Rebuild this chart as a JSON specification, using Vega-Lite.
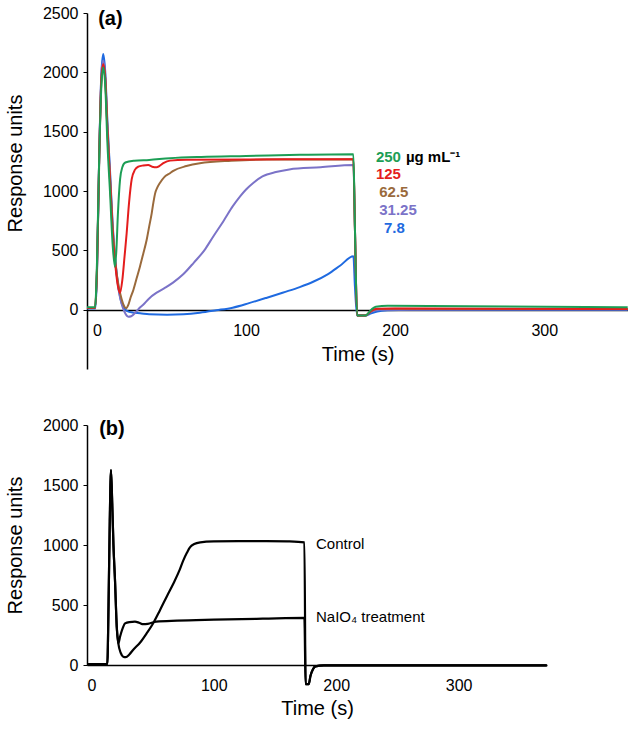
{
"$schema": "https://vega.github.io/schema/vega-lite/v6.json",
"padding": {"left": 5, "top": 5, "right": 0, "bottom": 2},
"spacing": 48,
"config": {"view": {"stroke": null}, "font": "Liberation Sans",
  "axis": {"grid": false, "domainColor": "black", "domainWidth": 1.5, "tickColor": "black", "labelColor": "black", "titleColor": "black", "labelFontSize": 16, "titleFontSize": 20, "titleFontWeight": "normal", "labelFlush": false, "labelOverlap": false, "format": "d"}},
"datasets": {
"a": [
{"s":"7.8","t":-6.7,"v":10},{"s":"7.8","t":-1,"v":10},{"s":"7.8","t":0,"v":300},{"s":"7.8","t":1.5,"v":1300},{"s":"7.8","t":3,"v":2000},{"s":"7.8","t":4.2,"v":2154},{"s":"7.8","t":5.5,"v":2010},{"s":"7.8","t":7,"v":1580},{"s":"7.8","t":8.7,"v":1180},{"s":"7.8","t":10.5,"v":720},{"s":"7.8","t":12.5,"v":390},{"s":"7.8","t":14.5,"v":180},{"s":"7.8","t":16,"v":80},{"s":"7.8","t":17.5,"v":25},{"s":"7.8","t":20,"v":-10},{"s":"7.8","t":24,"v":-25},{"s":"7.8","t":29,"v":-30},{"s":"7.8","t":35,"v":-38},{"s":"7.8","t":47,"v":-42},{"s":"7.8","t":58,"v":-38},{"s":"7.8","t":69,"v":-25},{"s":"7.8","t":80,"v":-5},{"s":"7.8","t":91,"v":17},{"s":"7.8","t":102,"v":55},{"s":"7.8","t":114,"v":101},{"s":"7.8","t":125,"v":145},{"s":"7.8","t":136,"v":190},{"s":"7.8","t":145,"v":235},{"s":"7.8","t":155,"v":300},{"s":"7.8","t":163,"v":370},{"s":"7.8","t":172,"v":450},{"s":"7.8","t":173,"v":200},{"s":"7.8","t":174.5,"v":-50},{"s":"7.8","t":180,"v":-50},{"s":"7.8","t":184,"v":-30},{"s":"7.8","t":188,"v":-15},{"s":"7.8","t":195,"v":-5},{"s":"7.8","t":210,"v":0},{"s":"7.8","t":356,"v":0},
{"s":"31.25","t":-6.7,"v":15},{"s":"31.25","t":-1.3,"v":15},{"s":"31.25","t":0,"v":330},{"s":"31.25","t":1.5,"v":1300},{"s":"31.25","t":3,"v":2000},{"s":"31.25","t":4.2,"v":2100},{"s":"31.25","t":5.5,"v":1980},{"s":"31.25","t":7,"v":1550},{"s":"31.25","t":8.7,"v":1150},{"s":"31.25","t":10.5,"v":700},{"s":"31.25","t":12.5,"v":380},{"s":"31.25","t":14.5,"v":170},{"s":"31.25","t":16.5,"v":50},{"s":"31.25","t":18.5,"v":-20},{"s":"31.25","t":21,"v":-59},{"s":"31.25","t":23,"v":-55},{"s":"31.25","t":26,"v":-20},{"s":"31.25","t":29,"v":20},{"s":"31.25","t":31,"v":42},{"s":"31.25","t":35,"v":95},{"s":"31.25","t":40,"v":143},{"s":"31.25","t":45,"v":180},{"s":"31.25","t":51,"v":228},{"s":"31.25","t":58,"v":300},{"s":"31.25","t":65,"v":397},{"s":"31.25","t":72,"v":500},{"s":"31.25","t":78,"v":617},{"s":"31.25","t":85,"v":750},{"s":"31.25","t":91,"v":870},{"s":"31.25","t":96,"v":955},{"s":"31.25","t":100,"v":1013},{"s":"31.25","t":105,"v":1070},{"s":"31.25","t":111,"v":1123},{"s":"31.25","t":120,"v":1160},{"s":"31.25","t":129,"v":1182},{"s":"31.25","t":150,"v":1200},{"s":"31.25","t":172,"v":1220},{"s":"31.25","t":173,"v":700},{"s":"31.25","t":174.5,"v":-50},{"s":"31.25","t":180,"v":-50},{"s":"31.25","t":184,"v":-15},{"s":"31.25","t":190,"v":0},{"s":"31.25","t":356,"v":2},
{"s":"62.5","t":-6.7,"v":15},{"s":"62.5","t":-1.3,"v":15},{"s":"62.5","t":0,"v":330},{"s":"62.5","t":1.5,"v":1250},{"s":"62.5","t":3,"v":1950},{"s":"62.5","t":4.2,"v":2060},{"s":"62.5","t":5.5,"v":1950},{"s":"62.5","t":7,"v":1520},{"s":"62.5","t":8.7,"v":1120},{"s":"62.5","t":10.5,"v":680},{"s":"62.5","t":12.5,"v":380},{"s":"62.5","t":14.5,"v":200},{"s":"62.5","t":16.5,"v":90},{"s":"62.5","t":18,"v":35},{"s":"62.5","t":19.5,"v":12},{"s":"62.5","t":21,"v":40},{"s":"62.5","t":22.5,"v":100},{"s":"62.5","t":24.4,"v":166},{"s":"62.5","t":26.5,"v":260},{"s":"62.5","t":28.8,"v":362},{"s":"62.5","t":31,"v":470},{"s":"62.5","t":33.3,"v":587},{"s":"62.5","t":35,"v":700},{"s":"62.5","t":36.7,"v":812},{"s":"62.5","t":37.8,"v":900},{"s":"62.5","t":39,"v":980},{"s":"62.5","t":40.5,"v":1030},{"s":"62.5","t":42.3,"v":1070},{"s":"62.5","t":45,"v":1115},{"s":"62.5","t":49,"v":1150},{"s":"62.5","t":51.2,"v":1170},{"s":"62.5","t":60,"v":1210},{"s":"62.5","t":69,"v":1234},{"s":"62.5","t":90,"v":1255},{"s":"62.5","t":114,"v":1265},{"s":"62.5","t":150,"v":1266},{"s":"62.5","t":172,"v":1267},{"s":"62.5","t":173,"v":700},{"s":"62.5","t":174.5,"v":-50},{"s":"62.5","t":180,"v":-50},{"s":"62.5","t":184,"v":-10},{"s":"62.5","t":188,"v":5},{"s":"62.5","t":200,"v":8},{"s":"62.5","t":356,"v":5},
{"s":"125","t":-6.7,"v":15},{"s":"125","t":-1.3,"v":15},{"s":"125","t":0,"v":350},{"s":"125","t":1.5,"v":1300},{"s":"125","t":3,"v":1950},{"s":"125","t":4.2,"v":2070},{"s":"125","t":5.5,"v":1950},{"s":"125","t":7,"v":1500},{"s":"125","t":8.7,"v":1100},{"s":"125","t":10.5,"v":650},{"s":"125","t":12.5,"v":350},{"s":"125","t":14,"v":200},{"s":"125","t":15.4,"v":140},{"s":"125","t":17,"v":250},{"s":"125","t":18.5,"v":450},{"s":"125","t":19.9,"v":644},{"s":"125","t":21.5,"v":900},{"s":"125","t":23.3,"v":1100},{"s":"125","t":25.5,"v":1180},{"s":"125","t":27.7,"v":1205},{"s":"125","t":31,"v":1215},{"s":"125","t":34.4,"v":1219},{"s":"125","t":37,"v":1205},{"s":"125","t":40,"v":1200},{"s":"125","t":42,"v":1212},{"s":"125","t":44.5,"v":1234},{"s":"125","t":49,"v":1256},{"s":"125","t":60,"v":1263},{"s":"125","t":100,"v":1266},{"s":"125","t":150,"v":1267},{"s":"125","t":172,"v":1268},{"s":"125","t":173,"v":700},{"s":"125","t":174.5,"v":-50},{"s":"125","t":180,"v":-50},{"s":"125","t":184,"v":-10},{"s":"125","t":188,"v":8},{"s":"125","t":200,"v":10},{"s":"125","t":356,"v":6},
{"s":"250","t":-6.7,"v":20},{"s":"250","t":-1.3,"v":20},{"s":"250","t":0,"v":400},{"s":"250","t":1.5,"v":1300},{"s":"250","t":3,"v":1900},{"s":"250","t":4.2,"v":2040},{"s":"250","t":5.5,"v":1900},{"s":"250","t":7,"v":1400},{"s":"250","t":8.7,"v":1000},{"s":"250","t":10.5,"v":550},{"s":"250","t":12,"v":362},{"s":"250","t":13,"v":500},{"s":"250","t":14,"v":800},{"s":"250","t":15.5,"v":1100},{"s":"250","t":17,"v":1200},{"s":"250","t":19,"v":1240},{"s":"250","t":25,"v":1255},{"s":"250","t":35,"v":1262},{"s":"250","t":49,"v":1276},{"s":"250","t":70,"v":1287},{"s":"250","t":100,"v":1295},{"s":"250","t":136,"v":1305},{"s":"250","t":172,"v":1310},{"s":"250","t":173,"v":700},{"s":"250","t":174.5,"v":-50},{"s":"250","t":180,"v":-50},{"s":"250","t":184,"v":0},{"s":"250","t":187,"v":25},{"s":"250","t":195,"v":32},{"s":"250","t":250,"v":28},{"s":"250","t":356,"v":20}
],
"alab": [
{"t":187.1,"v":1289,"label":"250","c":"#1c9e55"},
{"t":207.2,"v":1289,"label":"µg mL⁻¹","c":"#000000"},
{"t":187.1,"v":1141,"label":"125","c":"#e41d1d"},
{"t":189.3,"v":989,"label":"62.5","c":"#9a6a3c"},
{"t":189.3,"v":840,"label":"31.25","c":"#7b73c8"},
{"t":192.5,"v":691,"label":"7.8","c":"#1f6ae0"}
],
"b": [
{"s":"Control","t":-3.6,"v":8},{"s":"Control","t":13,"v":8},{"s":"Control","t":14,"v":500},{"s":"Control","t":15,"v":1200},{"s":"Control","t":16,"v":1625},{"s":"Control","t":17,"v":1350},{"s":"Control","t":18,"v":1000},{"s":"Control","t":19.3,"v":700},{"s":"Control","t":20.7,"v":320},{"s":"Control","t":22,"v":180},{"s":"Control","t":24,"v":100},{"s":"Control","t":26,"v":69},{"s":"Control","t":28,"v":65},{"s":"Control","t":31,"v":88},{"s":"Control","t":34,"v":125},{"s":"Control","t":40,"v":190},{"s":"Control","t":45,"v":262},{"s":"Control","t":50,"v":340},{"s":"Control","t":56,"v":457},{"s":"Control","t":62,"v":580},{"s":"Control","t":67,"v":680},{"s":"Control","t":72,"v":790},{"s":"Control","t":75,"v":870},{"s":"Control","t":78,"v":935},{"s":"Control","t":80.5,"v":980},{"s":"Control","t":84,"v":1008},{"s":"Control","t":89,"v":1022},{"s":"Control","t":100,"v":1030},{"s":"Control","t":120,"v":1033},{"s":"Control","t":143,"v":1033},{"s":"Control","t":160,"v":1030},{"s":"Control","t":174,"v":1022},{"s":"Control","t":175,"v":-160},{"s":"Control","t":177.5,"v":-160},{"s":"Control","t":179,"v":-90},{"s":"Control","t":181,"v":-35},{"s":"Control","t":183,"v":-12},{"s":"Control","t":190,"v":-3},{"s":"Control","t":372,"v":-3},
{"s":"NaIO4","t":-3.6,"v":8},{"s":"NaIO4","t":13,"v":8},{"s":"NaIO4","t":14,"v":500},{"s":"NaIO4","t":15,"v":1200},{"s":"NaIO4","t":16,"v":1625},{"s":"NaIO4","t":17,"v":1350},{"s":"NaIO4","t":18,"v":1000},{"s":"NaIO4","t":19.3,"v":700},{"s":"NaIO4","t":20.7,"v":320},{"s":"NaIO4","t":22,"v":181},{"s":"NaIO4","t":23.5,"v":240},{"s":"NaIO4","t":25.5,"v":305},{"s":"NaIO4","t":27.5,"v":347},{"s":"NaIO4","t":31,"v":358},{"s":"NaIO4","t":35.6,"v":361},{"s":"NaIO4","t":39,"v":352},{"s":"NaIO4","t":42.4,"v":340},{"s":"NaIO4","t":46,"v":343},{"s":"NaIO4","t":53,"v":362},{"s":"NaIO4","t":70,"v":370},{"s":"NaIO4","t":100,"v":378},{"s":"NaIO4","t":140,"v":386},{"s":"NaIO4","t":174,"v":393},{"s":"NaIO4","t":175,"v":-160},{"s":"NaIO4","t":177.5,"v":-160},{"s":"NaIO4","t":179,"v":-90},{"s":"NaIO4","t":181,"v":-35},{"s":"NaIO4","t":183,"v":-12},{"s":"NaIO4","t":190,"v":-3},{"s":"NaIO4","t":372,"v":-3}
],
"blab": [
{"t":183.5,"v":1008,"label":"Control"},
{"t":183.5,"v":402,"label":"NaIO₄ treatment"}
]
},
"vconcat": [
{
"width": 541, "height": 356,
"layer": [
{"data": {"name": "a"},
 "mark": {"type": "line", "strokeWidth": 2, "interpolate": "monotone"},
 "encoding": {
  "x": {"field": "t", "type": "quantitative", "scale": {"domain": [-6.7, 356.2], "nice": false, "zero": false},
        "axis": {"title": "Time (s)", "values": [0, 100, 200, 300], "offset": -59, "ticks": false, "labelPadding": 12, "titlePadding": 6}},
  "y": {"field": "v", "type": "quantitative", "scale": {"domain": [-500, 2500], "nice": false},
        "axis": {"title": "Response units", "values": [0, 500, 1000, 1500, 2000, 2500], "tickSize": 4, "labelPadding": 5, "titlePadding": 17, "titleY": 150}},
  "color": {"field": "s", "type": "nominal", "legend": null,
        "scale": {"domain": ["7.8", "31.25", "62.5", "125", "250"], "range": ["#1f6ae0", "#7b73c8", "#9a6a3c", "#e41d1d", "#1c9e55"]}}
 }},
{"data": {"name": "alab"},
 "mark": {"type": "text", "align": "left", "baseline": "middle", "fontSize": 15, "fontWeight": "bold"},
 "encoding": {
  "x": {"field": "t", "type": "quantitative"},
  "y": {"field": "v", "type": "quantitative"},
  "text": {"field": "label"},
  "color": {"field": "c", "type": "nominal", "scale": null}
 }},
{"data": {"values": [{"t": 9, "v": 2450, "label": "(a)"}]},
 "mark": {"type": "text", "align": "center", "baseline": "middle", "fontSize": 20, "fontWeight": "bold", "color": "black"},
 "encoding": {
  "x": {"field": "t", "type": "quantitative"},
  "y": {"field": "v", "type": "quantitative"},
  "text": {"field": "label"}
 }}
]
},
{
"width": 460, "height": 240,
"layer": [
{"data": {"name": "b"},
 "mark": {"type": "line", "strokeWidth": 2.2, "interpolate": "monotone", "color": "black"},
 "encoding": {
  "x": {"field": "t", "type": "quantitative", "scale": {"domain": [-3.6, 372.2], "nice": false, "zero": false},
        "axis": {"title": "Time (s)", "values": [0, 100, 200, 300], "ticks": false, "labelPadding": 12, "titlePadding": 5}},
  "y": {"field": "v", "type": "quantitative", "scale": {"domain": [0, 2000], "nice": false},
        "axis": {"title": "Response units", "values": [0, 500, 1000, 1500, 2000], "tickSize": 4, "labelPadding": 5, "titlePadding": 17}},
  "detail": {"field": "s", "type": "nominal"}
 }},
{"data": {"name": "blab"},
 "mark": {"type": "text", "align": "left", "baseline": "middle", "fontSize": 15, "color": "black"},
 "encoding": {
  "x": {"field": "t", "type": "quantitative"},
  "y": {"field": "v", "type": "quantitative"},
  "text": {"field": "label"}
 }},
{"data": {"values": [{"t": 16.8, "v": 1967, "label": "(b)"}]},
 "mark": {"type": "text", "align": "center", "baseline": "middle", "fontSize": 20, "fontWeight": "bold", "color": "black"},
 "encoding": {
  "x": {"field": "t", "type": "quantitative"},
  "y": {"field": "v", "type": "quantitative"},
  "text": {"field": "label"}
 }}
]
}
]
}
